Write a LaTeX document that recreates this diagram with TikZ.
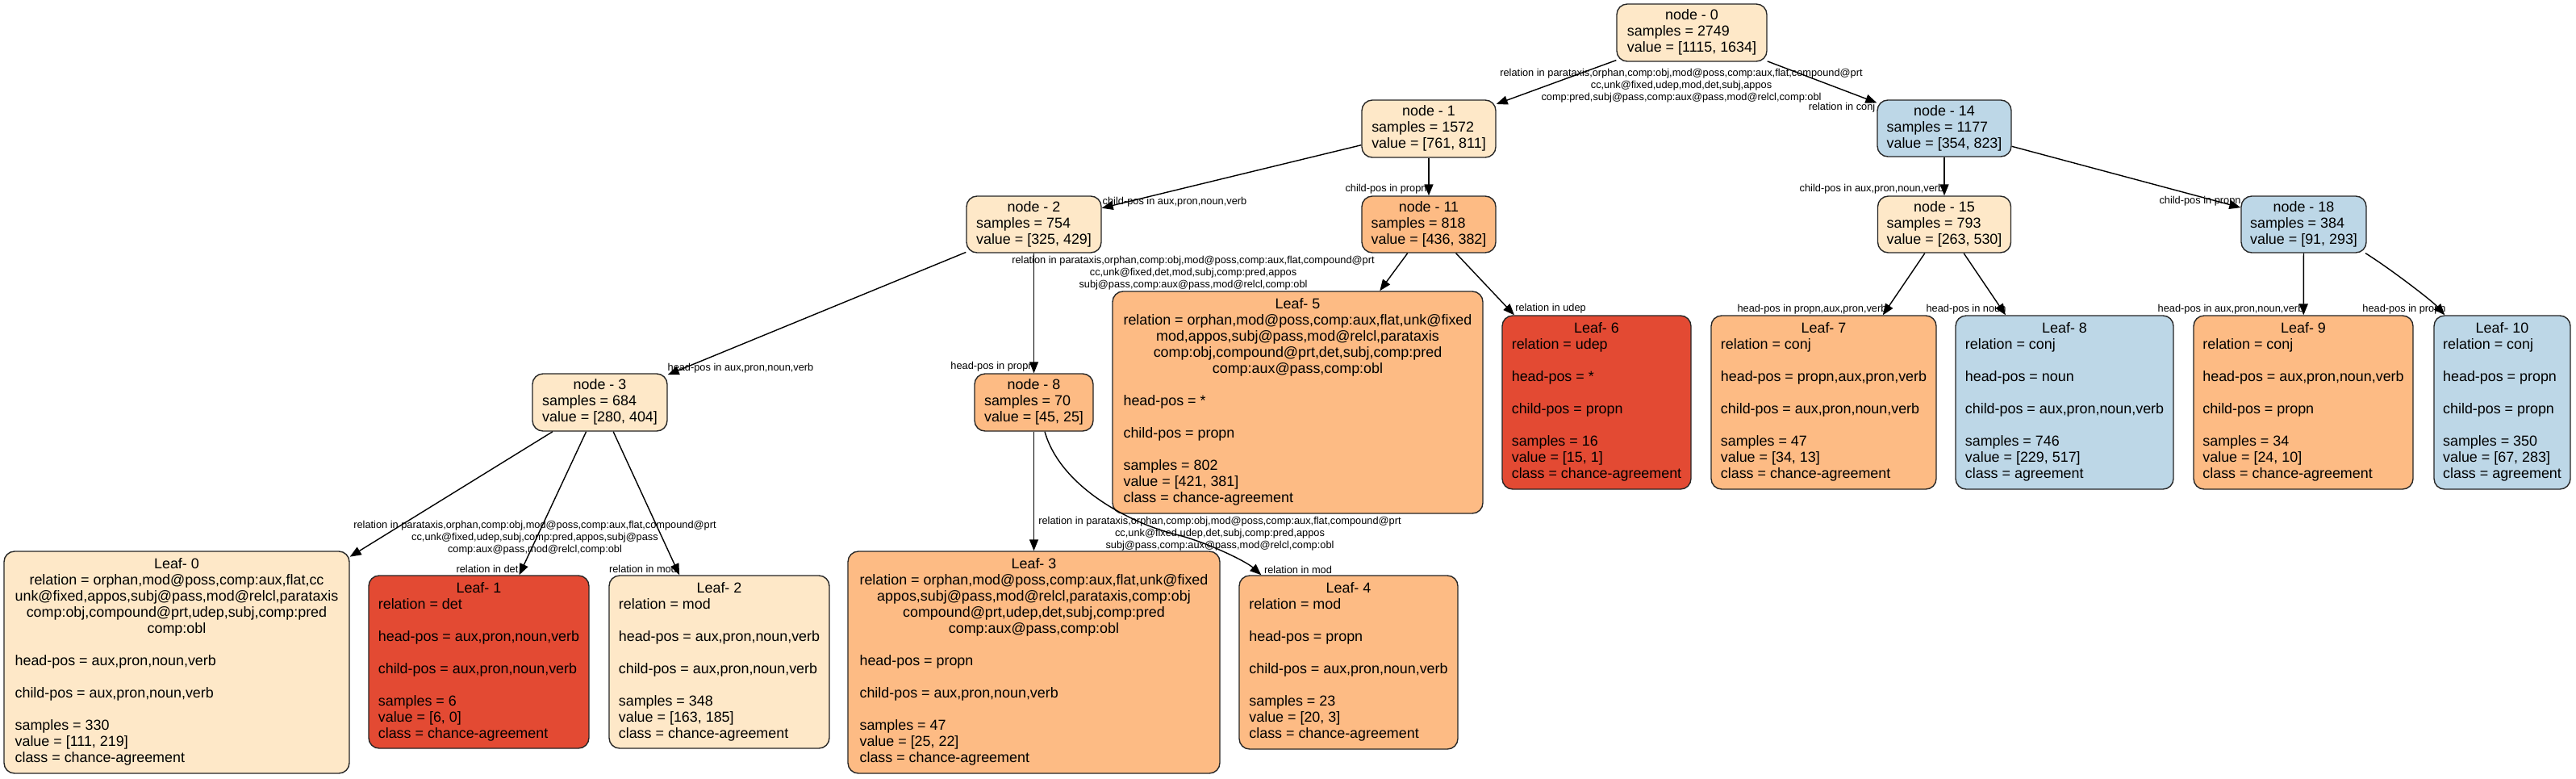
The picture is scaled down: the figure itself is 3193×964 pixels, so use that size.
\documentclass[tikz,border=0pt]{standalone}
\usepackage{fontspec}
\setmainfont{Liberation Sans}
\usetikzlibrary{arrows.meta}
\definecolor{pch}{HTML}{FEE8C8}
\definecolor{org}{HTML}{FDBB84}
\definecolor{rdx}{HTML}{E34A33}
\definecolor{blu}{HTML}{BDD7E7}
\newcommand{\nfont}{\fontsize{17.9}{20}\selectfont}
\newcommand{\efont}{\fontsize{12.8}{14.8}\selectfont}
\newcommand{\mkctr}[1]{\multicolumn{1}{@{}c@{}}{#1}}
\newenvironment{lns}{\begin{tabular}{@{}l@{}}}{\end{tabular}}
\begin{document}
\begin{tikzpicture}[x=1pt,y=-1pt,
  tbox/.style={draw=black!85, line width=1.4pt, rounded corners=13pt, inner xsep=4pt, inner ysep=2pt, font=\nfont},
  conn/.style={line width=1.4pt, -{Triangle[length=14pt,width=11pt]}},
  elab/.style={font=\efont, align=center, inner sep=0pt}]
\path[fill=white] (0,0) rectangle (3193,964);
\useasboundingbox (0,0) rectangle (3193,964);

% internal nodes
\node[tbox, fill=pch, minimum width=186pt, minimum height=71pt] (n0) at (2097,40.5)
 {\begin{lns}\mkctr{node - 0}\\ samples = 2749\\ value = [1115, 1634]\end{lns}};
\node[tbox, fill=pch, minimum width=166pt, minimum height=71pt] (n1) at (1771,159.5)
 {\begin{lns}\mkctr{node - 1}\\ samples = 1572\\ value = [761, 811]\end{lns}};
\node[tbox, fill=blu, minimum width=166pt, minimum height=70pt] (n14) at (2410,159)
 {\begin{lns}\mkctr{node - 14}\\ samples = 1177\\ value = [354, 823]\end{lns}};
\node[tbox, fill=pch, minimum width=167pt, minimum height=70pt] (n2) at (1281.5,278)
 {\begin{lns}\mkctr{node - 2}\\ samples = 754\\ value = [325, 429]\end{lns}};
\node[tbox, fill=org, minimum width=166pt, minimum height=70pt] (n11) at (1771,278)
 {\begin{lns}\mkctr{node - 11}\\ samples = 818\\ value = [436, 382]\end{lns}};
\node[tbox, fill=pch, minimum width=165pt, minimum height=70pt] (n15) at (2410,278)
 {\begin{lns}\mkctr{node - 15}\\ samples = 793\\ value = [263, 530]\end{lns}};
\node[tbox, fill=blu, minimum width=155pt, minimum height=70pt] (n18) at (2855.5,278)
 {\begin{lns}\mkctr{node - 18}\\ samples = 384\\ value = [91, 293]\end{lns}};
\node[tbox, fill=pch, minimum width=167pt, minimum height=71pt] (n3) at (743.5,498.5)
 {\begin{lns}\mkctr{node - 3}\\ samples = 684\\ value = [280, 404]\end{lns}};
\node[tbox, fill=org, minimum width=147pt, minimum height=71pt] (n8) at (1281.5,498.5)
 {\begin{lns}\mkctr{node - 8}\\ samples = 70\\ value = [45, 25]\end{lns}};

% leaves
\node[tbox, fill=org, minimum width=459pt, minimum height=275pt] (L5) at (1608.5,498.5)
 {\begin{lns}\mkctr{Leaf- 5}\\
 \mkctr{relation = orphan,mod@poss,comp:aux,flat,unk@fixed}\\
 \mkctr{mod,appos,subj@pass,mod@relcl,parataxis}\\
 \mkctr{comp:obj,compound@prt,det,subj,comp:pred}\\
 \mkctr{comp:aux@pass,comp:obl}\\
 \\
 head-pos = *\\
 \\
 child-pos = propn\\
 \\
 samples = 802\\
 value = [421, 381]\\
 class = chance-agreement\end{lns}};
\node[tbox, fill=rdx, minimum width=234pt, minimum height=215pt] (L6) at (1979,498.5)
 {\begin{lns}\mkctr{Leaf- 6}\\ relation = udep\\ \\ head-pos = *\\ \\ child-pos = propn\\ \\
 samples = 16\\ value = [15, 1]\\ class = chance-agreement\end{lns}};
\node[tbox, fill=org, minimum width=279pt, minimum height=215pt] (L7) at (2260.5,498.5)
 {\begin{lns}\mkctr{Leaf- 7}\\ relation = conj\\ \\ head-pos = propn,aux,pron,verb\\ \\ child-pos = aux,pron,noun,verb\\ \\
 samples = 47\\ value = [34, 13]\\ class = chance-agreement\end{lns}};
\node[tbox, fill=blu, minimum width=270pt, minimum height=215pt] (L8) at (2559,498.5)
 {\begin{lns}\mkctr{Leaf- 8}\\ relation = conj\\ \\ head-pos = noun\\ \\ child-pos = aux,pron,noun,verb\\ \\
 samples = 746\\ value = [229, 517]\\ class = agreement\end{lns}};
\node[tbox, fill=org, minimum width=272pt, minimum height=215pt] (L9) at (2855,498.5)
 {\begin{lns}\mkctr{Leaf- 9}\\ relation = conj\\ \\ head-pos = aux,pron,noun,verb\\ \\ child-pos = propn\\ \\
 samples = 34\\ value = [24, 10]\\ class = chance-agreement\end{lns}};
\node[tbox, fill=blu, minimum width=169pt, minimum height=215pt] (L10) at (3101.5,498.5)
 {\begin{lns}\mkctr{Leaf- 10}\\ relation = conj\\ \\ head-pos = propn\\ \\ child-pos = propn\\ \\
 samples = 350\\ value = [67, 283]\\ class = agreement\end{lns}};
\node[tbox, fill=pch, minimum width=428pt, minimum height=275pt] (L0) at (219,820.5)
 {\begin{lns}\mkctr{Leaf- 0}\\
 \mkctr{relation = orphan,mod@poss,comp:aux,flat,cc}\\
 \mkctr{unk@fixed,appos,subj@pass,mod@relcl,parataxis}\\
 \mkctr{comp:obj,compound@prt,udep,subj,comp:pred}\\
 \mkctr{comp:obl}\\
 \\
 head-pos = aux,pron,noun,verb\\
 \\
 child-pos = aux,pron,noun,verb\\
 \\
 samples = 330\\
 value = [111, 219]\\
 class = chance-agreement\end{lns}};
\node[tbox, fill=rdx, minimum width=273pt, minimum height=214pt] (L1) at (593.5,820)
 {\begin{lns}\mkctr{Leaf- 1}\\ relation = det\\ \\ head-pos = aux,pron,noun,verb\\ \\ child-pos = aux,pron,noun,verb\\ \\
 samples = 6\\ value = [6, 0]\\ class = chance-agreement\end{lns}};
\node[tbox, fill=pch, minimum width=273pt, minimum height=214pt] (L2) at (891.5,820)
 {\begin{lns}\mkctr{Leaf- 2}\\ relation = mod\\ \\ head-pos = aux,pron,noun,verb\\ \\ child-pos = aux,pron,noun,verb\\ \\
 samples = 348\\ value = [163, 185]\\ class = chance-agreement\end{lns}};
\node[tbox, fill=org, minimum width=461pt, minimum height=275pt] (L3) at (1281.5,820.5)
 {\begin{lns}\mkctr{Leaf- 3}\\
 \mkctr{relation = orphan,mod@poss,comp:aux,flat,unk@fixed}\\
 \mkctr{appos,subj@pass,mod@relcl,parataxis,comp:obj}\\
 \mkctr{compound@prt,udep,det,subj,comp:pred}\\
 \mkctr{comp:aux@pass,comp:obl}\\
 \\
 head-pos = propn\\
 \\
 child-pos = aux,pron,noun,verb\\
 \\
 samples = 47\\
 value = [25, 22]\\
 class = chance-agreement\end{lns}};
\node[tbox, fill=org, minimum width=271pt, minimum height=215pt] (L4) at (1671.5,820.5)
 {\begin{lns}\mkctr{Leaf- 4}\\ relation = mod\\ \\ head-pos = propn\\ \\ child-pos = aux,pron,noun,verb\\ \\
 samples = 23\\ value = [20, 3]\\ class = chance-agreement\end{lns}};

% connectors
\draw[conn] (n0) -- (n1);
\draw[conn] (n0) -- (n14);
\draw[conn] (n1) -- (n2);
\draw[conn] (n1) -- (n11);
\draw[conn] (n14) -- (n15);
\draw[conn] (n14) -- (n18);
\draw[conn] (n2) -- (n3);
\draw[conn] (n2) -- (n8);
\draw[conn] (n11) -- (L5);
\draw[conn] (n11) -- (L6);
\draw[conn] (n15) -- (L7);
\draw[conn] (n15) -- (L8);
\draw[conn] (n18) -- (L9);
\draw[conn] (n18.-25) .. controls (2960,331) and (3014,372) .. ([xshift=14pt]L10.north west);
\draw[conn] (n3) -- (L0);
\draw[conn] (n3) -- (L1);
\draw[conn] (n3) -- (L2);
\draw[conn] (n8) -- (L3);
\coordinate (k8) at (1461,663);
\draw[conn] ([xshift=13.5pt]n8.south) .. controls (1315,605) and (1405,650) .. (k8)
  .. controls (1496,672) and (1544,695) .. ([xshift=28pt]L4.north west);

% connector labels
\node[elab] (e01) at (2084,106) {relation in parataxis,orphan,comp:obj,mod@poss,comp:aux,flat,compound@prt\\ cc,unk@fixed,udep,mod,det,subj,appos\\ comp:pred,subj@pass,comp:aux@pass,mod@relcl,comp:obl};
\node[elab] (e014) at (2283,133) {relation in conj};
\node[elab] (e12) at (1456,250) {child-pos in aux,pron,noun,verb};
\node[elab] (e111) at (1718,234) {child-pos in propn};
\node[elab] (e115) at (1479,338) {relation in parataxis,orphan,comp:obj,mod@poss,comp:aux,flat,compound@prt\\ cc,unk@fixed,det,mod,subj,comp:pred,appos\\ subj@pass,comp:aux@pass,mod@relcl,comp:obl};
\node[elab] (e116) at (1922,382) {relation in udep};
\node[elab] (e23) at (918,456) {head-pos in aux,pron,noun,verb};
\node[elab] (e28) at (1230,454) {head-pos in propn};
\node[elab] (e30) at (663,666) {relation in parataxis,orphan,comp:obj,mod@poss,comp:aux,flat,compound@prt\\ cc,unk@fixed,udep,subj,comp:pred,appos,subj@pass\\ comp:aux@pass,mod@relcl,comp:obl};
\node[elab] (e31) at (604,705) {relation in det};
\node[elab] (e32) at (797,705) {relation in mod};
\node[elab] (e83) at (1512,661) {relation in parataxis,orphan,comp:obj,mod@poss,comp:aux,flat,compound@prt\\ cc,unk@fixed,udep,det,subj,comp:pred,appos\\ subj@pass,comp:aux@pass,mod@relcl,comp:obl};
\node[elab] (e84) at (1609,706) {relation in mod};
\node[elab] (e1415) at (2320,234) {child-pos in aux,pron,noun,verb};
\node[elab] (e1418) at (2727,249) {child-pos in propn};
\node[elab] (e157) at (2246,383) {head-pos in propn,aux,pron,verb};
\node[elab] (e158) at (2437,383) {head-pos in noun};
\node[elab] (e189) at (2765,383) {head-pos in aux,pron,noun,verb};
\node[elab] (e1810) at (2980,383) {head-pos in propn};
\end{tikzpicture}
\end{document}
